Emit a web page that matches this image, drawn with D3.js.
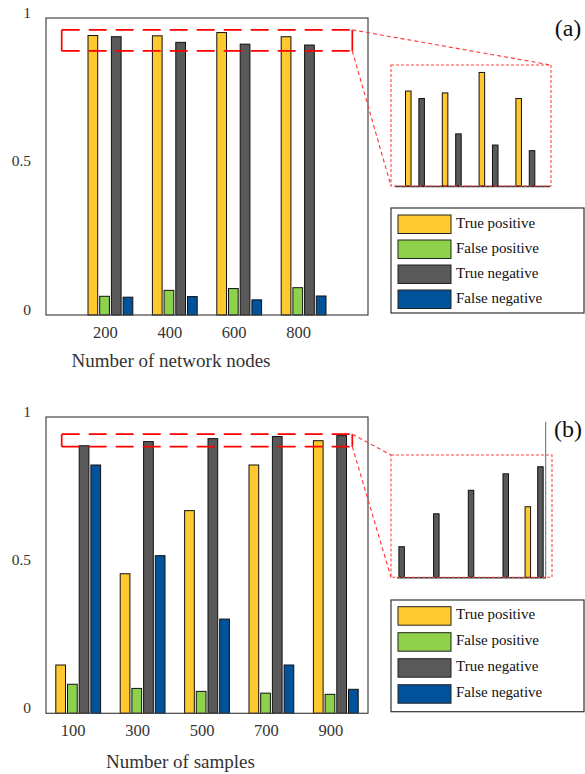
<!DOCTYPE html>
<html>
<head>
<meta charset="utf-8">
<script src="https://cdn.jsdelivr.net/npm/d3@7/dist/d3.min.js"></script>
<style>
  html, body { margin: 0; padding: 0; background: #fff; }
  svg text { font-family: "Liberation Serif", "Times New Roman", "DejaVu Serif", serif; }
</style>
</head>
<body>
<svg id="chart" width="585" height="774"></svg>
<script>
// ---------------- DATA ----------------
const seriesNames = ["True positive", "False positive", "True negative", "False negative"];
const yTicks = [0, 0.5, 1];

const nodesCats = ["200", "400", "600", "800"];
const nodesTP = [0.941, 0.940, 0.951, 0.937];
const nodesFP = [0.063, 0.083, 0.089, 0.092];
const nodesTN = [0.937, 0.918, 0.912, 0.909];
const nodesFN = [0.060, 0.062, 0.051, 0.064];

const samplesCats = ["100", "300", "500", "700", "900"];
const samplesTP = [0.163, 0.471, 0.684, 0.838, 0.920];
const samplesFP = [0.098, 0.084, 0.074, 0.068, 0.064];
const samplesTN = [0.903, 0.917, 0.927, 0.934, 0.937];
const samplesFN = [0.838, 0.532, 0.318, 0.163, 0.081];

// ---------------- STYLE ----------------
const colors = ["#FFC82E", "#8ED14B", "#595959", "#00529B"];
const FONT = "'Liberation Serif', 'Times New Roman', serif";
const svg = d3.select("#chart");

function drawPanel(cfg) {
  const { cats, series, frame, xDomain, title, xLabel, zoom, inset, legend, extraLine } = cfg;
  const g = svg.append("g");
  const x = d3.scaleLinear().domain(xDomain).range([frame.x0, frame.x1]);
  const y = d3.scaleLinear().domain([0, 1]).range([frame.y1, frame.y0]);
  const inner = d3.scaleBand().domain(d3.range(series.length)).range([-22.4, 22.4]).paddingInner(0.17);

  const rows = [];
  cats.forEach((c, i) => series.forEach((vals, s) => rows.push({ i, s, v: vals[i] })));

  // bars
  g.selectAll("rect.bar").data(rows).join("rect")
    .attr("class", "bar")
    .attr("x", d => x(d.i) + inner(d.s))
    .attr("width", inner.bandwidth())
    .attr("y", d => y(d.v))
    .attr("height", d => y(0) - y(d.v))
    .attr("fill", d => colors[d.s])
    .attr("stroke", "#111")
    .attr("stroke-width", 1);

  // frame
  g.append("rect")
    .attr("x", frame.x0).attr("y", frame.y0)
    .attr("width", frame.x1 - frame.x0).attr("height", frame.y1 - frame.y0)
    .attr("fill", "none").attr("stroke", "#444").attr("stroke-width", 1.2);

  // y tick labels
  g.selectAll("text.ytick").data(yTicks).join("text")
    .attr("class", "ytick")
    .attr("x", frame.x0 - 15)
    .attr("y", d => y(d) - 0.5)
    .attr("text-anchor", "end")
    .attr("font-family", FONT)
    .attr("font-size", 15.5)
    .attr("fill", "#333")
    .text(d => d3.format("")(d));

  // x tick labels
  g.selectAll("text.xtick").data(cats).join("text")
    .attr("class", "xtick")
    .attr("x", (d, i) => x(i) - 5)
    .attr("y", frame.y1 + 23)
    .attr("text-anchor", "middle")
    .attr("font-family", FONT)
    .attr("font-size", 16.5)
    .attr("fill", "#333")
    .text(d => d);

  // x label
  g.append("text")
    .attr("x", xLabel.x).attr("y", xLabel.y)
    .attr("text-anchor", "middle")
    .attr("font-family", FONT)
    .attr("font-size", 19)
    .attr("fill", "#333")
    .text(xLabel.text);

  // title
  g.append("text")
    .attr("x", 568).attr("y", title.y)
    .attr("text-anchor", "middle")
    .attr("font-family", FONT)
    .attr("font-size", 24)
    .attr("fill", "#111")
    .text(title.text);

  // zoom rectangle (y in data units): dashed top/bottom, solid sides
  const zr = { x0: frame.x0 + 15.7, x1: frame.x1 - 15.7, y0: y(zoom.hi), y1: y(zoom.lo) };
  const zEdges = [
    { x1: zr.x0, y1: zr.y0, x2: zr.x1, y2: zr.y0, dash: "18,9" },
    { x1: zr.x0, y1: zr.y1, x2: zr.x1, y2: zr.y1, dash: "18,9" },
    { x1: zr.x0, y1: zr.y0, x2: zr.x0, y2: zr.y1, dash: null },
    { x1: zr.x1, y1: zr.y0, x2: zr.x1, y2: zr.y1, dash: null }
  ];
  g.selectAll("line.zr").data(zEdges).join("line")
    .attr("class", "zr")
    .attr("x1", d => d.x1).attr("y1", d => d.y1)
    .attr("x2", d => d.x2).attr("y2", d => d.y2)
    .attr("stroke", "#f00").attr("stroke-width", 1.7)
    .attr("stroke-dasharray", d => d.dash);

  // inset
  const ib = inset.box;
  const s = (inset.xRange[1] - inset.xRange[0]) / (frame.x1 - frame.x0);
  const ix = d3.scaleLinear().domain(xDomain).range(inset.xRange);
  const iy = d3.scaleLinear().domain(inset.yDomain).range([ib.y1, ib.y0]);
  const clipId = "clip" + title.text.replace(/\W/g, "");
  svg.append("clipPath").attr("id", clipId).append("rect")
    .attr("x", ib.x0).attr("y", ib.y0).attr("width", ib.x1 - ib.x0).attr("height", ib.y1 - ib.y0);
  const ig = g.append("g").attr("clip-path", `url(#${clipId})`);
  ig.selectAll("rect").data(rows.filter(d => d.v > inset.yDomain[0])).join("rect")
    .attr("x", d => ix(d.i) + inner(d.s) * s)
    .attr("width", Math.max(5.5, inner.bandwidth() * s))
    .attr("y", d => iy(d.v))
    .attr("height", d => iy(inset.yDomain[0]) - iy(d.v))
    .attr("fill", d => colors[d.s])
    .attr("stroke", "#111")
    .attr("stroke-width", 1);

  // inset baseline
  g.append("line")
    .attr("x1", inset.axis.x0).attr("x2", inset.axis.x1)
    .attr("y1", ib.y1 + 0.5).attr("y2", ib.y1 + 0.5)
    .attr("stroke", "#333").attr("stroke-width", 1.6);

  if (extraLine) {
    g.append("line")
      .attr("x1", extraLine.x).attr("x2", extraLine.x)
      .attr("y1", extraLine.y0).attr("y2", ib.y1 + 0.5)
      .attr("stroke", "#666").attr("stroke-width", 1);
  }

  // inset box
  g.append("rect")
    .attr("x", ib.x0).attr("y", ib.y0)
    .attr("width", ib.x1 - ib.x0).attr("height", ib.y1 - ib.y0)
    .attr("fill", "none").attr("stroke", "#f44").attr("stroke-width", 1.1)
    .attr("stroke-dasharray", "3,2");

  // connector lines
  const targets = inset.connect === "right-top"
    ? [[ib.x1, ib.y0], [ib.x0, ib.y1]]
    : [[ib.x0, ib.y0], [ib.x0, ib.y1]];
  const sources = [[zr.x1, zr.y0], [zr.x1, zr.y1]];
  g.selectAll("line.conn").data([0, 1]).join("line")
    .attr("class", "conn")
    .attr("x1", k => sources[k][0]).attr("y1", k => sources[k][1])
    .attr("x2", k => targets[k][0]).attr("y2", k => targets[k][1])
    .attr("stroke", "#f33").attr("stroke-width", 1.1)
    .attr("stroke-dasharray", "4,3");

  // legend
  const lg = g.append("g");
  lg.append("rect")
    .attr("x", 391).attr("y", legend.y0)
    .attr("width", 193).attr("height", legend.h)
    .attr("fill", "#fff").attr("stroke", "#333").attr("stroke-width", 1.2);
  const items = lg.selectAll("g.item").data(seriesNames).join("g")
    .attr("class", "item")
    .attr("transform", (d, k) => `translate(0,${legend.y0 + legend.pad + k * legend.step})`);
  items.append("rect")
    .attr("x", 398).attr("y", 0).attr("width", 53).attr("height", 18.5)
    .attr("fill", (d, k) => colors[k]).attr("stroke", "#222").attr("stroke-width", 1);
  items.append("text")
    .attr("x", 456).attr("y", 12.5)
    .attr("font-family", FONT)
    .attr("font-size", 15)
    .attr("fill", "#111")
    .text(d => d);
}

drawPanel({
  cats: nodesCats,
  series: [nodesTP, nodesFP, nodesTN, nodesFN],
  frame: { x0: 46, x1: 368, y0: 18, y1: 315 },
  xDomain: [-1, 4],
  title: { text: "(a)", y: 36 },
  xLabel: { text: "Number of network nodes", x: 171, y: 367 },
  zoom: { lo: 0.889, hi: 0.960 },
  inset: {
    box: { x0: 391, x1: 551, y0: 65, y1: 186 },
    yDomain: [0.89, 0.955],
    xRange: [381.5, 565.5],
    axis: { x0: 395, x1: 550 },
    connect: "right-top"
  },
  legend: { y0: 208, h: 105, pad: 7, step: 25 }
});

drawPanel({
  cats: samplesCats,
  series: [samplesTP, samplesFP, samplesTN, samplesFN],
  frame: { x0: 46, x1: 368, y0: 417, y1: 713.3 },
  xDomain: [-0.5, 4.5],
  title: { text: "(b)", y: 437 },
  xLabel: { text: "Number of samples", x: 180.5, y: 768 },
  zoom: { lo: 0.900, hi: 0.942 },
  inset: {
    box: { x0: 391, x1: 552, y0: 455, y1: 577.3 },
    yDomain: [0.89, 0.942],
    xRange: [381, 554.5],
    axis: { x0: 397, x1: 546 },
    connect: "left"
  },
  legend: { y0: 600, h: 111.7, pad: 6.7, step: 26 },
  extraLine: { x: 545.7, y0: 421.7 }
});
</script>
</body>
</html>
